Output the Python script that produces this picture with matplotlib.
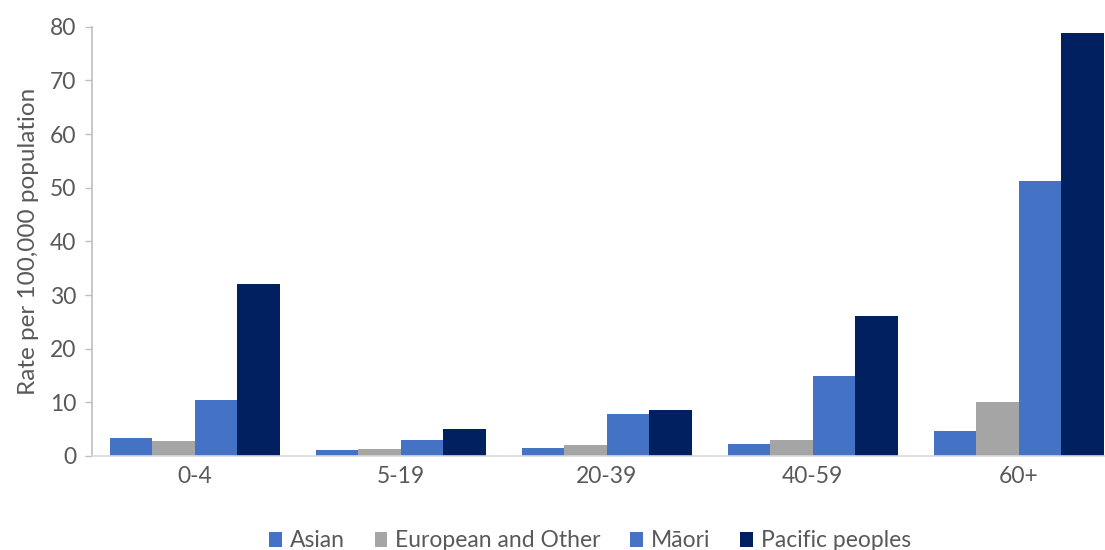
import matplotlib
matplotlib.use("Agg")
import matplotlib.pyplot as plt
import numpy as np

age_groups = ["0-4", "5-19", "20-39", "40-59", "60+"]
series_names = ["Asian", "European and Other", "Māori", "Pacific peoples"]
asian = [3.4, 1.1, 1.4, 2.2, 4.7]
european_other = [2.8, 1.3, 2.0, 2.9, 10.1]
maori = [10.4, 3.0, 7.9, 15.0, 51.2]
pacific = [32.1, 5.0, 8.6, 26.0, 78.9]
y_ticks = [0, 10, 20, 30, 40, 50, 60, 70, 80]

colors = ["#4472C4", "#A5A5A5", "#4472C4", "#002060"]

plt.rcParams["font.family"] = ["Lato", "DejaVu Sans"]

fig = plt.figure(figsize=(11.05, 5.5), dpi=100)
# axes deliberately runs a little past the right edge of the canvas
ax = fig.add_axes([91.7 / 1105, 1 - 456 / 550, 1030 / 1105, (456 - 26.7) / 550])

x = np.arange(len(age_groups))
bar_w = 0.2063
for i, (name, vals, col) in enumerate(zip(series_names,
                                          [asian, european_other, maori, pacific],
                                          colors)):
    ax.bar(x + (i - 1.5) * bar_w, vals, width=bar_w, color=col, label=name,
           linewidth=0)

ax.set_xlim(-0.5, len(age_groups) - 0.5)
ax.set_ylim(0, 80)
ax.set_yticks(y_ticks)
ax.set_xticks(x)
ax.set_xticklabels(age_groups)

tick_color = "#595959"
ax.tick_params(axis="y", length=5, width=1, color="#BFBFBF", labelsize=16.5,
               labelcolor=tick_color, pad=6)
ax.tick_params(axis="x", length=0, labelsize=16.5, labelcolor=tick_color, pad=7)

for side in ["top", "right"]:
    ax.spines[side].set_visible(False)
ax.spines["left"].set_color("#BFBFBF")
ax.spines["left"].set_linewidth(1.2)
ax.spines["bottom"].set_color("#D9D9D9")
ax.spines["bottom"].set_linewidth(1.2)

ax.set_ylabel("Rate per 100,000 population", fontsize=17.5, color=tick_color,
              labelpad=8)

fig.legend(loc="lower center", bbox_to_anchor=(0.534, -0.04), ncol=4,
           frameon=False, fontsize=16.5, handlelength=0.55, handleheight=0.6,
           handletextpad=0.35, columnspacing=1.3, labelcolor=tick_color)

fig.savefig("out.png", dpi=100)
